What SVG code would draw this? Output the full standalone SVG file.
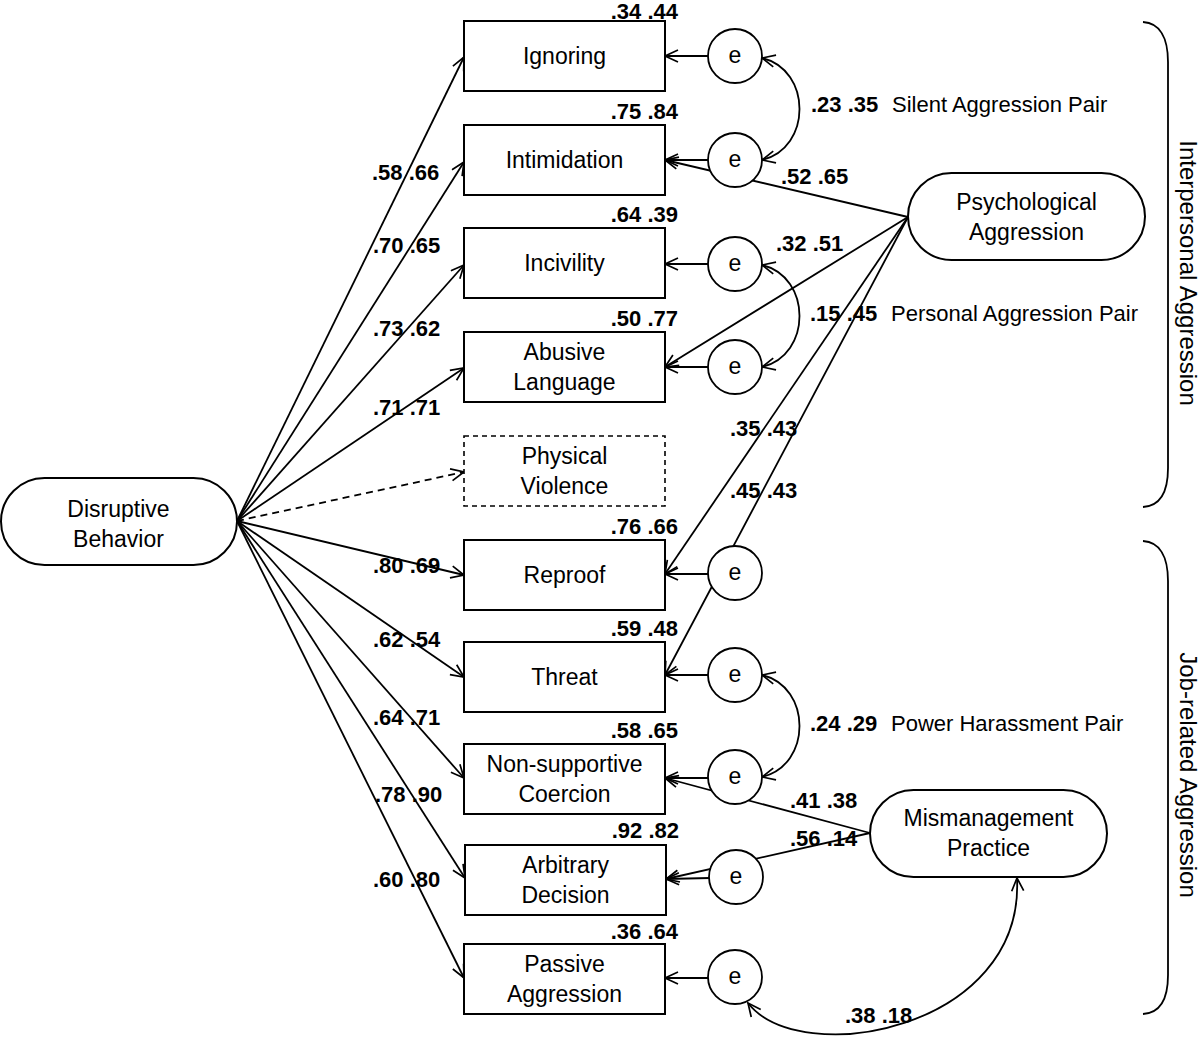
<svg xmlns="http://www.w3.org/2000/svg" width="1200" height="1046" viewBox="0 0 1200 1046">
<style>
.bg{fill:#fff}
.box{fill:#fff;stroke:#000;stroke-width:2}
.dbox{fill:#fff;stroke:#000;stroke-width:1.6;stroke-dasharray:5,4}
.lat{fill:#fff;stroke:#000;stroke-width:2}
.err{fill:#fff;stroke:#000;stroke-width:1.8}
.ln{fill:none;stroke:#000;stroke-width:1.8}
.dash{stroke-dasharray:7,5}
.t{font-family:"Liberation Sans",Arial,sans-serif;font-size:23px;fill:#000;text-anchor:middle}
.lb{font-family:"Liberation Sans",Arial,sans-serif;font-size:22px;font-weight:bold;fill:#000}
.r{text-anchor:end}
.pl{font-family:"Liberation Sans",Arial,sans-serif;font-size:22px;fill:#000}
.side{font-family:"Liberation Sans",Arial,sans-serif;font-size:24px;fill:#000;text-anchor:middle}
</style>
<defs>
<marker id="ah" markerUnits="userSpaceOnUse" markerWidth="16" markerHeight="16" viewBox="0 0 16 16" refX="14" refY="7" orient="auto-start-reverse">
<path d="M1,1 L14,7 L1,13" fill="none" stroke="#000" stroke-width="1.7"/>
</marker>
</defs>
<rect class="bg" x="0" y="0" width="1200" height="1046"/>

<g id="connectors">
<path class="ln" d="M237,521 L464,57" marker-end="url(#ah)"/>
<path class="ln" d="M237,521 L464,162" marker-end="url(#ah)"/>
<path class="ln" d="M237,521 L464,265" marker-end="url(#ah)"/>
<path class="ln" d="M237,521 L464,368" marker-end="url(#ah)"/>
<path class="ln dash" d="M237,521 L464,472" marker-end="url(#ah)"/>
<path class="ln" d="M237,521 L464,575" marker-end="url(#ah)"/>
<path class="ln" d="M237,521 L464,677" marker-end="url(#ah)"/>
<path class="ln" d="M237,521 L464,778" marker-end="url(#ah)"/>
<path class="ln" d="M237,521 L465,878" marker-end="url(#ah)"/>
<path class="ln" d="M237,521 L464,978" marker-end="url(#ah)"/>
<path class="ln" d="M908,217 L665,160" marker-end="url(#ah)"/>
<path class="ln" d="M908,217 L665,367" marker-end="url(#ah)"/>
<path class="ln" d="M908,217 L665,574" marker-end="url(#ah)"/>
<path class="ln" d="M908,217 L665,675" marker-end="url(#ah)"/>
<path class="ln" d="M870,833 L665,778" marker-end="url(#ah)"/>
<path class="ln" d="M870,833 L666,879" marker-end="url(#ah)"/>
<path class="ln" d="M710,56 L665,56" marker-end="url(#ah)"/>
<path class="ln" d="M710,160 L665,160" marker-end="url(#ah)"/>
<path class="ln" d="M710,264 L665,264" marker-end="url(#ah)"/>
<path class="ln" d="M710,367 L665,367" marker-end="url(#ah)"/>
<path class="ln" d="M710,574 L665,574" marker-end="url(#ah)"/>
<path class="ln" d="M710,675 L665,675" marker-end="url(#ah)"/>
<path class="ln" d="M710,778 L665,778" marker-end="url(#ah)"/>
<path class="ln" d="M710,878 L666,879" marker-end="url(#ah)"/>
<path class="ln" d="M710,978 L665,978" marker-end="url(#ah)"/>
<path class="ln" d="M762,58 C812,70 812,148 762,160" marker-start="url(#ah)" marker-end="url(#ah)"/>
<path class="ln" d="M762,265 C812,277 812,355 762,367" marker-start="url(#ah)" marker-end="url(#ah)"/>
<path class="ln" d="M762,675 C812,687 812,765 762,777" marker-start="url(#ah)" marker-end="url(#ah)"/>
<path class="ln" d="M748,1003 C800,1070 1025,1030 1017,878" marker-start="url(#ah)" marker-end="url(#ah)"/>
</g>

<g id="disruptive">
<rect class="lat" x="1" y="478" width="236" height="87" rx="43.5" ry="43.5"/>
<text class="t" x="118.5" y="517">Disruptive</text>
<text class="t" x="118.5" y="547">Behavior</text>
</g>

<g id="psychological">
<rect class="lat" x="908" y="173" width="237" height="87" rx="43.5" ry="43.5"/>
<text class="t" x="1026.5" y="210">Psychological</text>
<text class="t" x="1026.5" y="240">Aggression</text>
</g>

<g id="mismanagement">
<rect class="lat" x="870" y="790" width="237" height="87" rx="43.5" ry="43.5"/>
<text class="t" x="988.5" y="826">Mismanagement</text>
<text class="t" x="988.5" y="856">Practice</text>
</g>

<g id="ignoring"><rect class="box" x="464" y="21" width="201" height="70"/><text class="t" x="564.5" y="64">Ignoring</text></g>
<g id="intimidation"><rect class="box" x="464" y="125" width="201" height="70"/><text class="t" x="564.5" y="168">Intimidation</text></g>
<g id="incivility"><rect class="box" x="464" y="228" width="201" height="70"/><text class="t" x="564.5" y="271">Incivility</text></g>
<g id="abusive"><rect class="box" x="464" y="332" width="201" height="70"/><text class="t" x="564.5" y="360">Abusive</text><text class="t" x="564.5" y="390">Language</text></g>
<g id="physical"><rect class="dbox" x="464" y="436" width="201" height="70"/><text class="t" x="564.5" y="464">Physical</text><text class="t" x="564.5" y="494">Violence</text></g>
<g id="reproof"><rect class="box" x="464" y="540" width="201" height="70"/><text class="t" x="564.5" y="583">Reproof</text></g>
<g id="threat"><rect class="box" x="464" y="642" width="201" height="70"/><text class="t" x="564.5" y="685">Threat</text></g>
<g id="nonsupportive"><rect class="box" x="464" y="744" width="201" height="70"/><text class="t" x="564.5" y="772">Non-supportive</text><text class="t" x="564.5" y="802">Coercion</text></g>
<g id="arbitrary"><rect class="box" x="465" y="845" width="201" height="70"/><text class="t" x="565.5" y="873">Arbitrary</text><text class="t" x="565.5" y="903">Decision</text></g>
<g id="passive"><rect class="box" x="464" y="944" width="201" height="70"/><text class="t" x="564.5" y="972">Passive</text><text class="t" x="564.5" y="1002">Aggression</text></g>

<g id="e1"><circle class="err" cx="735" cy="56" r="27"/><text class="t" x="735" y="63">e</text></g>
<g id="e2"><circle class="err" cx="735" cy="160" r="27"/><text class="t" x="735" y="167">e</text></g>
<g id="e3"><circle class="err" cx="735" cy="264" r="27"/><text class="t" x="735" y="271">e</text></g>
<g id="e4"><circle class="err" cx="735" cy="367" r="27"/><text class="t" x="735" y="374">e</text></g>
<g id="e5"><circle class="err" cx="735" cy="573" r="27"/><text class="t" x="735" y="580">e</text></g>
<g id="e6"><circle class="err" cx="735" cy="675" r="27"/><text class="t" x="735" y="682">e</text></g>
<g id="e7"><circle class="err" cx="735" cy="777" r="27"/><text class="t" x="735" y="784">e</text></g>
<g id="e8"><circle class="err" cx="736" cy="877" r="27"/><text class="t" x="736" y="884">e</text></g>
<g id="e9"><circle class="err" cx="735" cy="977" r="27"/><text class="t" x="735" y="984">e</text></g>

<g id="labels">
<text class="lb r" x="678" y="19">.34 .44</text>
<text class="lb r" x="678" y="119">.75 .84</text>
<text class="lb r" x="678" y="222">.64 .39</text>
<text class="lb r" x="678" y="326">.50 .77</text>
<text class="lb r" x="678" y="534">.76 .66</text>
<text class="lb r" x="678" y="636">.59 .48</text>
<text class="lb r" x="678" y="738">.58 .65</text>
<text class="lb r" x="679" y="838">.92 .82</text>
<text class="lb r" x="678" y="939">.36 .64</text>

<text class="lb" x="372" y="180">.58 .66</text>
<text class="lb" x="373" y="253">.70 .65</text>
<text class="lb" x="373" y="336">.73 .62</text>
<text class="lb" x="373" y="415">.71 .71</text>
<text class="lb" x="373" y="573">.80 .69</text>
<text class="lb" x="373" y="647">.62 .54</text>
<text class="lb" x="373" y="725">.64 .71</text>
<text class="lb" x="375" y="802">.78 .90</text>
<text class="lb" x="373" y="887">.60 .80</text>

<text class="lb" x="781" y="184">.52 .65</text>
<text class="lb" x="776" y="251">.32 .51</text>
<text class="lb" x="730" y="436">.35 .43</text>
<text class="lb" x="730" y="498">.45 .43</text>
<text class="lb" x="790" y="808">.41 .38</text>
<text class="lb" x="790" y="846">.56 .14</text>
<text class="lb" x="845" y="1023">.38 .18</text>

<text class="lb" x="811" y="112">.23 .35</text>
<text class="pl" x="892" y="112">Silent Aggression Pair</text>
<text class="lb" x="810" y="321">.15 .45</text>
<text class="pl" x="891" y="321">Personal Aggression Pair</text>
<text class="lb" x="810" y="731">.24 .29</text>
<text class="pl" x="891" y="731">Power Harassment Pair</text>
</g>

<g id="braces">
<path class="ln" d="M1143,22 C1160,23 1168,38 1168,62 L1168,468 C1168,492 1160,506 1143,507"/>
<path class="ln" d="M1143,541 C1160,542 1168,557 1168,581 L1168,975 C1168,999 1160,1013 1143,1014"/>
<text class="side" font-size="25" transform="translate(1180,273) rotate(90)">Interpersonal Aggression</text>
<text class="side" transform="translate(1180,775) rotate(90)">Job-related Aggression</text>
</g>
</svg>
